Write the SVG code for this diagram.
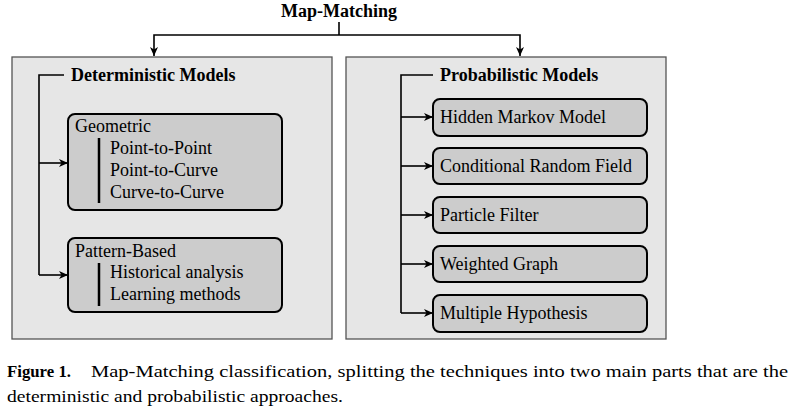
<svg xmlns="http://www.w3.org/2000/svg" width="801" height="412" viewBox="0 0 801 412">
  <defs>
    <marker id="arr" markerUnits="userSpaceOnUse" markerWidth="10" markerHeight="10" refX="9" refY="4" orient="auto">
      <path d="M0,0 L9,4 L0,8 L2.5,4 Z" fill="#000"/>
    </marker>
    <style>
      .t { font-family: "Liberation Serif", "Times New Roman", serif; font-size: 18px; fill: #000; }
      .b { font-weight: bold; }
      .panel { fill: #e6e6e6; stroke: #555; stroke-width: 1.3; }
      .box { fill: #cccccc; stroke: #000; stroke-width: 2; }
      .bar { stroke: #000; stroke-width: 2.5; }
      .c { fill: none; stroke: #000; stroke-width: 1.6; }
      .cap { font-family: "Liberation Serif", "Times New Roman", serif; font-size: 17px; fill: #000; }
    </style>
  </defs>
  <rect width="801" height="412" fill="#fff"/>

  <g id="title">
    <text class="t b" x="281" y="17">Map-Matching</text>
  </g>

  <g id="panel-deterministic">
    <rect class="panel" x="12" y="57" width="320" height="282"/>
    <text class="t b" x="71" y="81">Deterministic Models</text>
  </g>
  <g id="panel-probabilistic">
    <rect class="panel" x="346" y="57" width="320" height="282"/>
    <text class="t b" x="440" y="81">Probabilistic Models</text>
  </g>

  <g id="geometric">
    <rect class="box" x="68" y="114" width="214" height="96" rx="7"/>
    <text class="t" x="75" y="132">Geometric</text>
    <line class="bar" x1="99" y1="138" x2="99" y2="203"/>
    <text class="t" x="110" y="154">Point-to-Point</text>
    <text class="t" x="110" y="176">Point-to-Curve</text>
    <text class="t" x="110" y="198">Curve-to-Curve</text>
  </g>
  <g id="pattern-based">
    <rect class="box" x="68" y="238" width="214" height="74" rx="7"/>
    <text class="t" x="75" y="257">Pattern-Based</text>
    <line class="bar" x1="99" y1="263" x2="99" y2="306"/>
    <text class="t" x="110" y="278">Historical analysis</text>
    <text class="t" x="110" y="300">Learning methods</text>
  </g>

  <g id="hmm">
    <rect class="box" x="433" y="99" width="214" height="37" rx="7"/>
    <text class="t" x="440" y="123">Hidden Markov Model</text>
  </g>
  <g id="crf">
    <rect class="box" x="433" y="148" width="214" height="36" rx="7"/>
    <text class="t" x="440" y="172">Conditional Random Field</text>
  </g>
  <g id="particle">
    <rect class="box" x="433" y="197" width="214" height="36" rx="7"/>
    <text class="t" x="440" y="221">Particle Filter</text>
  </g>
  <g id="weighted">
    <rect class="box" x="433" y="246" width="214" height="36" rx="7"/>
    <text class="t" x="440" y="270">Weighted Graph</text>
  </g>
  <g id="multiple">
    <rect class="box" x="433" y="295" width="214" height="37" rx="7"/>
    <text class="t" x="440" y="319">Multiple Hypothesis</text>
  </g>

  <g id="connectors">
    <line class="c" x1="339" y1="22" x2="339" y2="35"/>
    <polyline class="c" points="339,35 154,35 154,56" marker-end="url(#arr)"/>
    <polyline class="c" points="339,35 520,35 520,56" marker-end="url(#arr)"/>

    <polyline class="c" points="64,75 39,75 39,275"/>
    <line class="c" x1="39" y1="163" x2="68" y2="163" marker-end="url(#arr)"/>
    <line class="c" x1="39" y1="275" x2="68" y2="275" marker-end="url(#arr)"/>

    <polyline class="c" points="433,75 401,75 401,313"/>
    <line class="c" x1="401" y1="117" x2="433" y2="117" marker-end="url(#arr)"/>
    <line class="c" x1="401" y1="166" x2="433" y2="166" marker-end="url(#arr)"/>
    <line class="c" x1="401" y1="215" x2="433" y2="215" marker-end="url(#arr)"/>
    <line class="c" x1="401" y1="264" x2="433" y2="264" marker-end="url(#arr)"/>
    <line class="c" x1="401" y1="313" x2="433" y2="313" marker-end="url(#arr)"/>
  </g>

  <g id="caption">
    <text class="cap b" x="7" y="377" textLength="64" lengthAdjust="spacingAndGlyphs">Figure 1.</text>
    <text class="cap" x="91" y="377" textLength="697" lengthAdjust="spacingAndGlyphs">Map-Matching classification, splitting the techniques into two main parts that are the</text>
    <text class="cap" x="7" y="402" textLength="336" lengthAdjust="spacingAndGlyphs">deterministic and probabilistic approaches.</text>
  </g>
</svg>
